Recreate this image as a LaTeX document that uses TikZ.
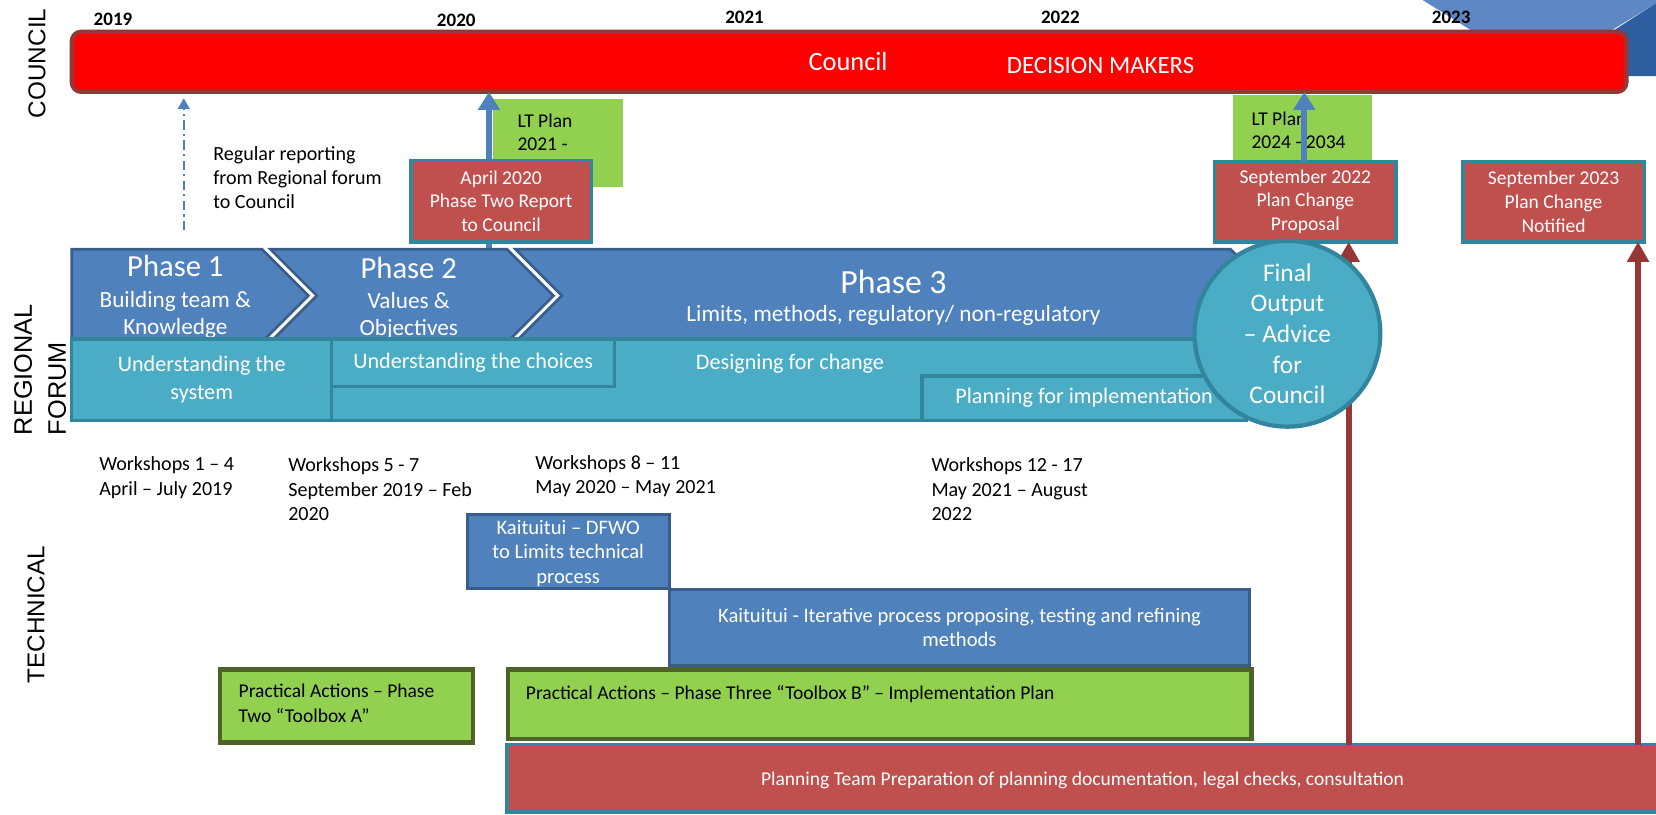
\documentclass[tikz,border=0pt]{standalone}
\usepackage{fontspec}
\setmainfont{Carlito}
\newfontfamily\labfont{Liberation Sans}
\usetikzlibrary{arrows.meta,shapes.geometric}
\definecolor{cblue}{HTML}{4F81BD}
\definecolor{cbluedk}{HTML}{385D8A}
\definecolor{cteal}{HTML}{4BACC6}
\definecolor{ctealdk}{HTML}{31859C}
\definecolor{cred}{HTML}{C0504D}
\definecolor{cdred}{HTML}{953735}
\definecolor{cgreen}{HTML}{92D050}
\definecolor{cgreendk}{HTML}{4F6228}
\definecolor{clight}{HTML}{5F87C3}
\definecolor{cdark}{HTML}{2E5EA0}
\newcommand{\fsz}[2]{\fontsize{#1}{#2}\selectfont}
\begin{document}
\begin{tikzpicture}[x=1pt,y=-1pt,
  every node/.style={inner sep=0pt, outer sep=0pt},
  boxbase/.style={rectangle, anchor=north west, align=center},
  redbox/.style={boxbase, fill=cred, draw=ctealdk, line width=3.5pt, text=white, font=\fsz{18.5}{22.5}},
  tealbox/.style={boxbase, fill=cteal, draw=ctealdk, line width=3pt, text=white, font=\fsz{21}{26}},
  bluebox/.style={boxbase, fill=cblue, draw=cbluedk, line width=3pt, text=white, font=\fsz{19.5}{23.5}},
  greenbox/.style={boxbase, fill=cgreen, draw=cgreendk, line width=4pt},
  ltbox/.style={boxbase, fill=cgreen},
  chev/.style={fill=cblue, draw=cbluedk, line width=2.5pt, line join=miter},
  txt/.style={align=left, anchor=north west, font=\fsz{19}{23.5}},
  wtxt/.style={text=white},
  year/.style={font=\bfseries\fsz{18}{20}},
  lab/.style={font=\labfont\fsz{23}{23}, rotate=90},
  bluearrow/.style={draw=cblue, line width=6pt, -{Triangle[width=20pt,length=17pt]}},
  redarrow/.style={draw=cdred, line width=5.5pt, -{Triangle[width=20pt,length=19pt]}},
  dasharrow/.style={draw=cblue, line width=2pt, dash pattern=on 9pt off 4pt on 2pt off 4pt, -{Triangle[width=11pt,length=10pt]}}
]
\useasboundingbox (0,0) rectangle (1568,771);

% top-right decoration
\fill[clight] (1347,0) -- (1568,0) -- (1568,3) -- (1478,58) -- (1440,58) -- cycle;
\fill[cdark] (1568,3) -- (1461,72) -- (1568,72) -- cycle;

% council bar
\node[rectangle, anchor=north west, rounded corners=9pt, fill=red, draw=cdred, line width=4pt,
      minimum width=1472pt, minimum height=57pt] (council) at (68,30) {};
\node[wtxt, font=\fsz{25}{30}] (counciltxt) at (803,58) {Council};
\node[wtxt, font=\fsz{23.5}{28}] (dm) at (1042,62) {DECISION MAKERS};

% years
\node[year] (y19) at (107,18) {2019};
\node[year] (y20) at (432,19) {2020};
\node[year] (y21) at (705,16) {2021};
\node[year] (y22) at (1004,16) {2022};
\node[year] (y23) at (1374,16) {2023};

% LT plan boxes
\node[ltbox, minimum width=123pt, minimum height=83pt] (lt1) at (467,94) {};
\node[txt, font=\fsz{18.5}{22}] (lt1t) at (490,108) {LT Plan\\2021 -};
\node[ltbox, minimum width=132pt, minimum height=62pt] (lt2) at (1167,90) {};
\node[txt, font=\fsz{18.5}{21.5}] (lt2t) at (1185,106) {LT Plan\\2024 - 2034};

% blue arrows to council
\coordinate (a1s) at (463,237);
\draw[bluearrow] (a1s) -- (a1s |- council.south);

% report boxes
\node[redbox, minimum width=171pt, minimum height=77pt] (apr) at (389,152) {April 2020\\Phase Two Report\\to Council};
\node[redbox, minimum width=172pt, minimum height=76pt] (sep22) at (1150,153) {September 2022\\Plan Change\\Proposal};
\node[redbox, minimum width=172pt, minimum height=76pt] (sep23) at (1385,153) {September 2023\\Plan Change\\Notified};
\coordinate (a2s) at (1235,153);
\draw[bluearrow] (a2s) -- (a2s |- council.south);

% planning team bar
\node[redbox, minimum width=1092pt, minimum height=64pt] (plan) at (480,705) {};
\node[wtxt, font=\fsz{18.5}{22}] (plant) at (1025,739) {Planning Team Preparation of planning documentation, legal checks, consultation};

% red arrows up
\coordinate (ra1) at (1277,705);
\coordinate (ra2) at (1551,705);
\draw[redarrow] (ra1) -- (ra1 |- sep22.south);
\draw[redarrow] (ra2) -- (ra2 |- sep23.south);

% phase chevrons
\draw[chev] (68,236) -- (248,236) -- (292,280) -- (248,324) -- (68,324) -- cycle;
\draw[chev] (256,236) -- (480,236) -- (524,280) -- (480,324) -- (256,324) -- (300,280) -- cycle;
\draw[chev] (488,236) -- (1165,236) -- (1209,280) -- (1165,324) -- (488,324) -- (532,280) -- cycle;
\node[wtxt, font=\fsz{29}{34}] (p1) at (166,252) {Phase 1};
\node[wtxt, align=center, font=\fsz{22}{25.5}] (p1s) at (166,298) {Building team \&\\Knowledge};
\node[wtxt, font=\fsz{29}{34}] (p2) at (387,254) {Phase 2};
\node[wtxt, align=center, font=\fsz{22}{25.5}] (p2s) at (387,299) {Values \&\\Objectives};
\node[wtxt, font=\fsz{32}{38}] (p3) at (846,267) {Phase 3};
\node[wtxt, font=\fsz{22}{26}] (p3s) at (846,299) {Limits, methods, regulatory/ non-regulatory};

% teal rows
\node[tealbox, minimum width=246pt, minimum height=77pt] (sys) at (68,321) {Understanding the\\system};
\node[tealbox, minimum width=866pt, minimum height=77pt] (design) at (314,321) {};
\node[wtxt, font=\fsz{21}{26}] (designt) at (748,344) {Designing for change};
\node[tealbox, minimum width=268pt, minimum height=45pt] (choices) at (314,321) {Understanding the choices};
\node[tealbox, minimum width=307pt, minimum height=42pt] (impl) at (873,356) {Planning for implementation};

% final output circle
\node[circle, minimum size=176pt, fill=cteal, draw=ctealdk, line width=4pt, align=center, text=white,
      font=\fsz{24}{29}] (final) at (1219,316) {Final\\Output\\– Advice\\for\\Council};

% regular reporting
\coordinate (rrb) at (174,218);
\coordinate (rrt) at (174,93);
\draw[dasharrow] (rrb) -- (rrt);
\node[txt, font=\fsz{19}{22.5}] (rep) at (202,139) {Regular reporting\\from Regional forum\\to Council};

% workshops
\node[txt] (w1) at (94,432) {Workshops 1 – 4\\April – July 2019};
\node[txt] (w2) at (273,433) {Workshops 5 - 7\\September 2019 – Feb\\2020};
\node[txt] (w3) at (507,431) {Workshops 8 – 11\\May 2020 – May 2021};
\node[txt] (w4) at (882,433) {Workshops 12 - 17\\May 2021 – August\\2022};

% technical
\node[bluebox, minimum width=191pt, minimum height=70pt] (k1) at (443,487) {};
\node[wtxt, align=center, font=\fsz{19.5}{23.5}] (k1t) at (538,524) {Kaituitui – DFWO\\to Limits technical\\process};
\node[bluebox, minimum width=549pt, minimum height=72pt] (k2) at (634,558) {Kaituitui - Iterative process proposing, testing and refining\\methods};
\node[greenbox, minimum width=240pt, minimum height=69pt] (pa) at (208,634) {};
\node[txt, font=\fsz{18.5}{23}] (pat) at (226,648) {Practical Actions – Phase\\Two “Toolbox A”};
\node[greenbox, minimum width=704pt, minimum height=66pt] (pb) at (481,634) {};
\node[txt, font=\fsz{18.5}{23}] (pbt) at (498,649) {Practical Actions – Phase Three “Toolbox B” – Implementation Plan};

% lane labels
\node[lab] (lcouncil) at (35,60) {COUNCIL};
\node[lab, anchor=west, font=\labfont\fsz{24}{24}] (lreg) at (22,412) {REGIONAL};
\node[lab, anchor=west, font=\labfont\fsz{24}{24}] (lfor) at (54,412) {FORUM};
\node[lab] (ltech) at (34,582) {TECHNICAL};
\end{tikzpicture}
\end{document}
